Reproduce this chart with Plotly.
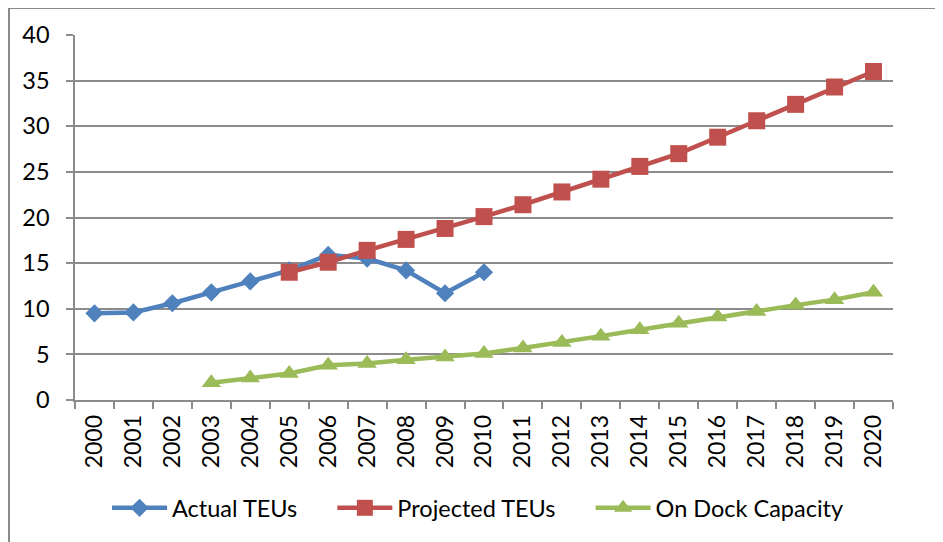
import plotly.graph_objects as go

years = [str(y) for y in range(2000, 2021)]

actual_years = years[0:11]
actual_teus = [9.5, 9.6, 10.6, 11.8, 13.0, 14.2, 15.9, 15.5, 14.2, 11.7, 14.0]

projected_years = years[5:21]
projected_teus = [14.0, 15.1, 16.4, 17.6, 18.8, 20.1, 21.4, 22.8, 24.2, 25.6, 27.0, 28.8, 30.6, 32.4, 34.3, 36.0]

dock_years = years[3:21]
dock_capacity = [1.9, 2.4, 2.9, 3.8, 4.0, 4.4, 4.7, 5.1, 5.7, 6.3, 7.0, 7.7, 8.4, 9.1, 9.7, 10.4, 11.0, 11.8]

y_ticks = [0, 5, 10, 15, 20, 25, 30, 35, 40]

FONT = "Lato, Carlito, Calibri, sans-serif"
GRID = "#8c8c8c"
PAD = "\u00a0" * 5  # visual gap between legend entries

fig = go.Figure()
fig.add_trace(go.Scatter(
    x=actual_years, y=actual_teus, name="Actual TEUs" + PAD, mode="lines+markers",
    line=dict(color="#4F81BD", width=4.5),
    marker=dict(symbol="diamond", size=14, color="#4F81BD"),
))
fig.add_trace(go.Scatter(
    x=projected_years, y=projected_teus, name="Projected TEUs" + PAD, mode="lines+markers",
    line=dict(color="#C0504D", width=4.5),
    marker=dict(symbol="square", size=17, color="#C0504D"),
))
fig.add_trace(go.Scatter(
    x=dock_years, y=dock_capacity, name="On Dock Capacity", mode="lines+markers",
    line=dict(color="#9BBB59", width=4.5),
    marker=dict(symbol="triangle-up", size=17, color="#9BBB59"),
))

BORDER = dict(color="#8a8a8a", width=2)
# chart-area frame (paper coordinates relative to the plot area)
bx0, bx1, by0, by1 = -0.0807, 1.0575, -0.42, 1.074
frame = [
    dict(type="line", xref="paper", yref="paper", x0=bx0, x1=bx1, y0=by1, y1=by1, line=BORDER),
    dict(type="line", xref="paper", yref="paper", x0=bx0, x1=bx0, y0=by0, y1=by1, line=BORDER),
    dict(type="line", xref="paper", yref="paper", x0=bx1, x1=bx1, y0=by0, y1=by1, line=BORDER),
]

fig.update_layout(
    width=935, height=534,
    margin=dict(l=67, r=50, t=27, b=142),
    paper_bgcolor="white", plot_bgcolor="white",
    font=dict(family=FONT, size=23, color="#000000"),
    showlegend=True,
    legend=dict(
        orientation="h", x=0.4927, xanchor="center", y=-0.296, yanchor="middle",
        font=dict(family=FONT, size=23.5, color="#000000"),
        itemwidth=55, bgcolor="rgba(0,0,0,0)",
    ),
    xaxis=dict(
        type="category", categoryorder="array", categoryarray=years,
        tickmode="array", tickvals=years, ticktext=years,
        range=[-0.5, 20.5], automargin=False,
        tickangle=-90, tickson="boundaries", ticks="outside", ticklen=7,
        tickcolor=GRID, tickwidth=1.5, ticklabelstandoff=4,
        showline=True, linecolor=GRID, linewidth=1.5,
        showgrid=False, zeroline=False,
        tickfont=dict(family=FONT, size=23, color="#000000"),
    ),
    yaxis=dict(
        range=[0, 40], tickmode="array", tickvals=y_ticks, automargin=False,
        ticks="outside", ticklen=7, tickcolor=GRID, tickwidth=1.5,
        ticklabelstandoff=12,
        showline=True, linecolor=GRID, linewidth=1.5,
        showgrid=True, gridcolor=GRID, gridwidth=1.5,
        zeroline=False,
        tickfont=dict(family=FONT, size=23.5, color="#000000"),
    ),
    shapes=frame,
)

fig.write_html("out.html")
